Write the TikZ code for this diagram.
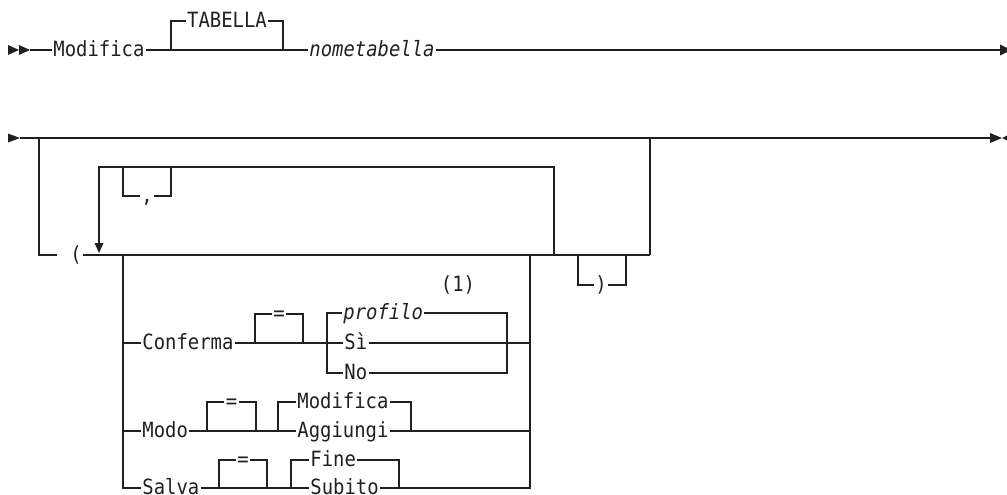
\documentclass[tikz,border=0pt]{standalone}
\usepackage{fontspec}
\newfontfamily\rrfont[FakeStretch=0.9]{DejaVu Sans Mono}
\definecolor{ink}{HTML}{231F20}
\begin{document}
\begin{tikzpicture}[x=1pt,y=-1pt,
  rail/.style={line width=1.2pt,draw=ink},
  tip/.style={fill=ink},
  kw/.style={font=\rrfont\fontsize{21}{25}\selectfont, text=ink, inner sep=0pt,
             inner xsep=1.2pt, text height=13.6pt, text depth=0.2pt},
  var/.style={kw, font=\rrfont\itshape\fontsize{21}{25}\selectfont}]
\useasboundingbox (0,0) rectangle (1007,495);

% ---------- first row ----------
\coordinate (s1) at (30,50);
\coordinate (e1) at (1000,50);
\coordinate (tb1) at (171,50);
\coordinate (tb2) at (283,50);
\node[kw,anchor=west] (modifica) at (52,50) {Modifica};
\node[kw] (tabella) at (227,21) {TABELLA};
\node[var,anchor=west] (nome) at (308,50) {nometabella};

\fill[tip] (8,45) -- (19,50) -- (8,55) -- cycle;
\fill[tip] (19,45) -- (30,50) -- (19,55) -- cycle;
\draw[rail] (s1) -- (modifica.west);
\draw[rail] (modifica.east) -- (nome.west);
\draw[rail] (tb1) |- (tabella.west);
\draw[rail] (tabella.east) -| (tb2);
\draw[rail] (nome.east) -- (e1);
\fill[tip] (e1) ++(0,-5.5) -- ++(11,5.5) -- ++(-11,5.5) -- cycle;

% ---------- second row ----------
\coordinate (s2) at (20,138);
\coordinate (e2) at (990,138);
\coordinate (lb) at (39,138);
\coordinate (lbend) at (57,255);
\coordinate (ob) at (650,138);
\coordinate (out) at (650,255);
\coordinate (cl) at (123,255);
\coordinate (cr) at (530,255);
\coordinate (lr) at (554,255);
\coordinate (ll) at (99,167);
\coordinate (la) at (99,243);
\coordinate (cb1) at (123,167);
\coordinate (cb2) at (171,167);
\coordinate (pb1) at (578,255);
\coordinate (pb2) at (626,255);

\fill[tip] (8,133.5) -- (20,138) -- (8,142.5) -- cycle;
\draw[rail] (s2) -- (e2);
\fill[tip] (e2) ++(0,-5) -- ++(12,5) -- ++(-12,5) -- cycle;
\fill[tip] (1002,138) -- (1012,133) -- (1012,143) -- cycle;

% optional group in parentheses
\node[kw] (lpar) at (76,255) {(};
\draw[rail] (lb) |- (lbend);
\draw[rail] (lpar.east) -- (out);
\draw[rail] (out) -- (ob);

% repeat loop with comma separator
\draw[rail] (lr) |- (ll) -- (la);
\fill[tip] (la) ++(-4.5,0) -- ++(9,0) -- ++(-4.5,10) -- cycle;
\node[kw] (comma) at (147,196) {,};
\draw[rail] (cb1) |- (comma.west);
\draw[rail] (comma.east) -| (cb2);

% closing parenthesis
\node[kw] (rpar) at (601,285) {)};
\draw[rail] (pb1) |- (rpar.west);
\draw[rail] (rpar.east) -| (pb2);

% ---------- options ----------
\node[kw,anchor=west] (conf) at (141,343) {Conferma};
\node[kw,anchor=west] (modo) at (141,431) {Modo};
\node[kw,anchor=west] (salva) at (141,488) {Salva};
\draw[rail] (cl) |- (salva.west);
\draw[rail] (conf.west -| cl) -- (conf.west);
\draw[rail] (modo.west -| cl) -- (modo.west);

% Conferma
\coordinate (q1a) at (255,343);
\coordinate (q1b) at (303,343);
\coordinate (pl) at (327,313);
\coordinate (prb) at (507,373);
\node[kw] (eq1) at (279,314) {=};
\node[var,anchor=west] (prof) at (342,313) {profilo};
\node[kw,anchor=west] (si) at (343,343) {Sì};
\node[kw,anchor=west] (no) at (343,373) {No};
\node[kw] (fn1) at (458,285) {(1)};
\draw[rail] (conf.east) -- (si.west);
\draw[rail] (q1a) |- (eq1.west);
\draw[rail] (eq1.east) -| (q1b);
\draw[rail] (no.west) -| (pl) -- (prof.west);
\draw[rail] (prof.east) -| (prb) -- (no.east);
\draw[rail] (si.east) -- (si.east -| cr);

% Modo
\coordinate (q2a) at (207,431);
\coordinate (q2b) at (256,431);
\coordinate (ml) at (278,431);
\coordinate (mr) at (411,431);
\node[kw] (eq2) at (231.5,402) {=};
\node[kw,anchor=west] (modf) at (296,402) {Modifica};
\node[kw,anchor=west] (agg) at (296,431) {Aggiungi};
\draw[rail] (modo.east) -- (agg.west);
\draw[rail] (q2a) |- (eq2.west);
\draw[rail] (eq2.east) -| (q2b);
\draw[rail] (ml) |- (modf.west);
\draw[rail] (modf.east) -| (mr);
\draw[rail] (agg.east) -- (agg.east -| cr);

% Salva
\coordinate (q3a) at (219,488);
\coordinate (q3b) at (267,488);
\coordinate (fl) at (291,488);
\coordinate (fr) at (399,488);
\node[kw] (eq3) at (243,460) {=};
\node[kw,anchor=west] (fine) at (309,460) {Fine};
\node[kw,anchor=west] (sub) at (309,488) {Subito};
\draw[rail] (salva.east) -- (sub.west);
\draw[rail] (q3a) |- (eq3.west);
\draw[rail] (eq3.east) -| (q3b);
\draw[rail] (fl) |- (fine.west);
\draw[rail] (fine.east) -| (fr);
\draw[rail] (sub.east) -| (cr);
\end{tikzpicture}
\end{document}
